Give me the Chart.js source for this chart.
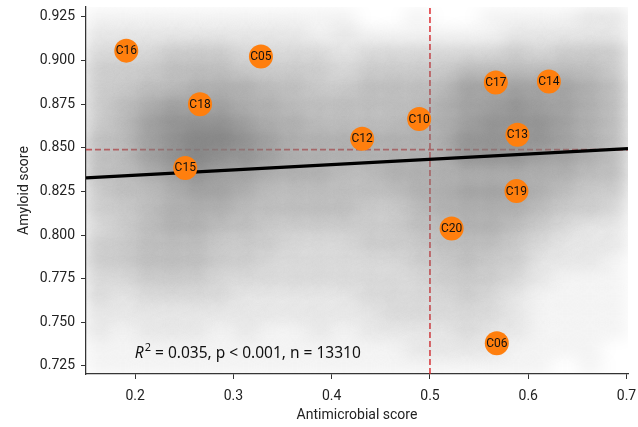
<!DOCTYPE html>
<html>
<head>
<meta charset="utf-8">
<script src="https://cdn.jsdelivr.net/npm/chart.js@4.4.1/dist/chart.umd.min.js"></script>
<style>
  html, body { margin: 0; padding: 0; background: #fff; }
  canvas { display: block; }
</style>
</head>
<body>
<canvas id="chart" width="638" height="427"></canvas>
<script>
// axis limits and ticks
const X_MIN = 0.15, X_MAX = 0.7015;
const Y_MIN = 0.7204, Y_MAX = 0.9307;
const xTicks = [0.2, 0.3, 0.4, 0.5, 0.6, 0.7];
const yTicks = [0.725, 0.75, 0.775, 0.8, 0.825, 0.85, 0.875, 0.9, 0.925];

// labelled clusters (orange)
const clusterNames = ["C16", "C05", "C18", "C15", "C12", "C10", "C17", "C14", "C13", "C19", "C20", "C06"];
const clusterX = [0.191, 0.328, 0.266, 0.251, 0.431, 0.489, 0.567, 0.621, 0.589, 0.588, 0.522, 0.568];
const clusterY = [0.9057, 0.9023, 0.875, 0.8385, 0.8552, 0.8665, 0.8874, 0.888, 0.8575, 0.8252, 0.8038, 0.738];

// thresholds and regression fit
const xThreshold = 0.5;
const yThreshold = 0.849;
const fitX = [0.15, 0.7015];
const fitY = [0.8328, 0.8495];
const statsText = " = 0.035, p < 0.001, n = 13310";

const cloudX = [0.1625, 0.1875, 0.2125, 0.2375, 0.2625, 0.2875, 0.3125, 0.3375, 0.3625, 0.3875, 0.4125,
                0.4375, 0.4625, 0.4875, 0.5125, 0.5375, 0.5625, 0.5875, 0.6125, 0.6375, 0.6625, 0.6875];
const cloudY = [0.925, 0.915, 0.905, 0.895, 0.885, 0.875, 0.865, 0.855, 0.845, 0.835, 0.825,
                0.815, 0.805, 0.795, 0.785, 0.775, 0.765, 0.755, 0.745, 0.735, 0.725];
const cloudDensity = [
  "1111111111100100111122",
  "2222222221211111122222",
  "3334443333233333343444",
  "4445554444344445555554",
  "4455666554455557777765",
  "4567776655555567787765",
  "4578887665555667888765",
  "5578998766666668888765",
  "5578988766666668887765",
  "5567877666556666666655",
  "4556776555555667776544",
  "4456665555544566665443",
  "3456655444444556654322",
  "4455544433344455543222",
  "4455544333333445442221",
  "3344433333333344432111",
  "3233332222233334321111",
  "2222222222223333321111",
  "2122212112122223221111",
  "1111111111111222211110",
  "1111111111111111111010"
];

// soft gray blob per density level, so neighbouring cells blend into a cloud
function makeBlob(d) {
  const sx = 12.3, sy = 8.7, w = 76, h = 54;
  const c = document.createElement("canvas");
  c.width = w; c.height = h;
  const g = c.getContext("2d");
  const img = g.createImageData(w, h);
  const A = Math.min(0.95, d * 0.105);
  const tau = -Math.log(1 - A) / (2 * Math.PI * 0.25);
  for (let y = 0; y < h; y++) {
    for (let x = 0; x < w; x++) {
      const dx = x + 0.5 - w / 2, dy = y + 0.5 - h / 2;
      const k = Math.exp(-(dx * dx / (2 * sx * sx) + dy * dy / (2 * sy * sy)));
      const i = (y * w + x) * 4;
      img.data[i] = 128; img.data[i + 1] = 128; img.data[i + 2] = 128;
      img.data[i + 3] = Math.round((1 - Math.exp(-tau * k)) * 255);
    }
  }
  g.putImageData(img, 0, 0);
  return c;
}
const blobs = [];
for (let d = 0; d <= 9; d++) blobs.push(makeBlob(d));

const cloudPoints = [];
cloudY.forEach((y, r) => {
  cloudX.forEach((x, c) => {
    const d = +cloudDensity[r][c];
    if (d > 0) cloudPoints.push({ x: x, y: y, d: d });
  });
});

const clusterPoints = clusterNames.map((n, i) => ({ x: clusterX[i], y: clusterY[i] }));

const labelPlugin = {
  id: "labels",
  afterDatasetsDraw(chart) {
    const ctx = chart.ctx;
    const meta = chart.getDatasetMeta(0);
    ctx.save();
    ctx.font = "12px Roboto";
    ctx.fillStyle = "#111";
    ctx.textAlign = "center";
    ctx.textBaseline = "middle";
    meta.data.forEach((pt, i) => ctx.fillText(clusterNames[i], pt.x, pt.y + 0.5));

    // stats annotation in axes fraction
    const a = chart.chartArea;
    let x = a.left + 0.09 * (a.right - a.left);
    const y = a.bottom - 16.5;
    ctx.textAlign = "left";
    ctx.textBaseline = "alphabetic";
    ctx.fillStyle = "#111";
    ctx.font = "italic 15.5px 'Noto Sans'";
    ctx.fillText("R", x, y);
    x += ctx.measureText("R").width + 1;
    ctx.font = "11px 'Noto Sans'";
    ctx.fillText("2", x, y - 6.5);
    x += ctx.measureText("2").width;
    ctx.font = "15.5px 'Noto Sans'";
    ctx.fillText(statsText, x, y);
    ctx.restore();
  }
};

const axisFont = { family: "Roboto", size: 14 };

new Chart(document.getElementById("chart"), {
  type: "scatter",
  data: {
    datasets: [
      {
        data: clusterPoints,
        pointRadius: 12,
        pointBackgroundColor: "#ff7f0e",
        pointBorderWidth: 0,
        pointBorderColor: "#ff7f0e"
      },
      {
        data: fitX.map((x, i) => ({ x: x, y: fitY[i] })),
        showLine: true,
        borderColor: "#000",
        borderWidth: 3.2,
        pointRadius: 0
      },
      {
        data: cloudPoints,
        pointRadius: 1,
        pointStyle: ctx => blobs[ctx.raw ? ctx.raw.d : 0],
        clip: 0
      },
      {
        data: [{ x: X_MIN, y: yThreshold }, { x: X_MAX, y: yThreshold }],
        showLine: true,
        borderColor: "rgba(222,30,36,0.85)",
        borderWidth: 1.7,
        borderDash: [6, 3],
        pointRadius: 0
      },
      {
        data: [{ x: xThreshold, y: Y_MIN }, { x: xThreshold, y: Y_MAX }],
        showLine: true,
        borderColor: "rgba(222,30,36,0.85)",
        borderWidth: 1.7,
        borderDash: [6, 3],
        pointRadius: 0
      }
    ]
  },
  options: {
    responsive: false,
    devicePixelRatio: 1,
    animation: false,
    events: [],
    layout: { autoPadding: false, padding: { top: 7, right: 10, left: 0, bottom: 0 } },
    plugins: { legend: { display: false }, tooltip: { enabled: false } },
    scales: {
      x: {
        type: "linear",
        min: X_MIN,
        max: X_MAX,
        afterBuildTicks: s => { s.ticks = xTicks.map(v => ({ value: v })); },
        afterFit: s => { s.height = 53; s.paddingLeft = 0; s.paddingRight = 0; },
        grid: { drawOnChartArea: false, drawTicks: true, tickLength: 5, tickWidth: 1, tickColor: "#333" },
        border: { display: true, color: "#333", width: 1.25 },
        ticks: { color: "#222", font: axisFont, padding: 9, autoSkip: false, maxRotation: 0,
                 callback: v => v.toFixed(1) },
        title: { display: true, text: "Antimicrobial score", color: "#222", font: axisFont,
                 padding: { top: 0, bottom: 3 } }
      },
      y: {
        type: "linear",
        min: Y_MIN,
        max: Y_MAX,
        afterBuildTicks: s => { s.ticks = yTicks.map(v => ({ value: v })); },
        afterFit: s => { s.width = 86; s.paddingTop = 0; s.paddingBottom = 0; },
        grid: { drawOnChartArea: false, drawTicks: true, tickLength: 5, tickWidth: 1, tickColor: "#333" },
        border: { display: true, color: "#333", width: 1.25 },
        ticks: { color: "#222", font: axisFont, padding: 6, autoSkip: false,
                 callback: v => v.toFixed(3) },
        title: { display: true, text: "Amyloid score", color: "#222", font: axisFont,
                 padding: { top: 16, bottom: 0 } }
      }
    }
  },
  plugins: [labelPlugin]
});
</script>
</body>
</html>
